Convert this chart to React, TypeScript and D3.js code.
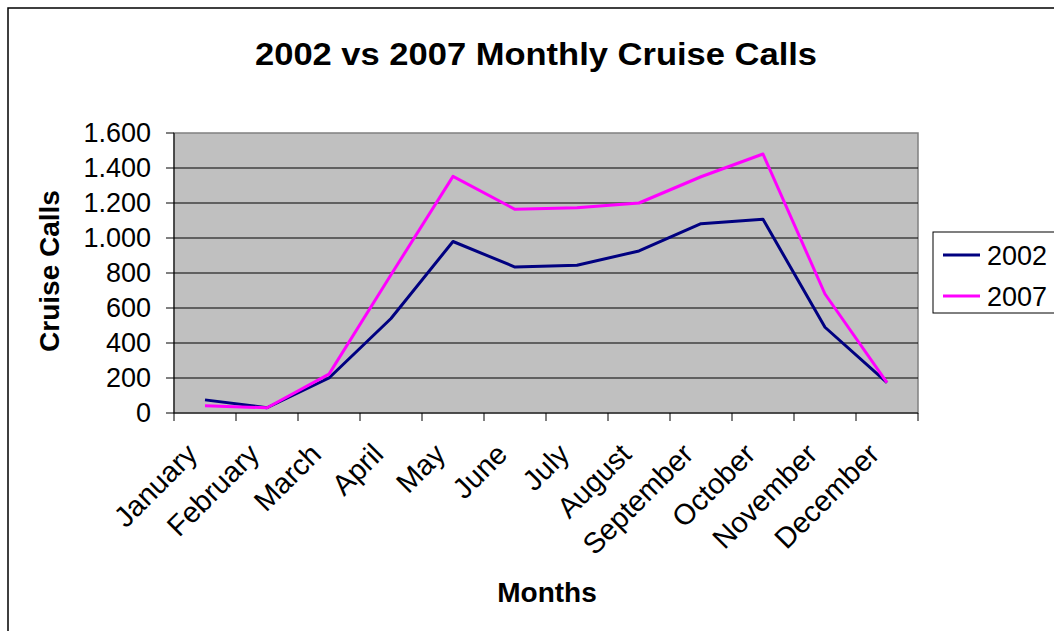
import React from "react";
import * as d3 from "d3";

const months = ["January","February","March","April","May","June","July","August","September","October","November","December"];
const values2002 = [75, 30, 200, 540, 980, 834, 844, 926, 1082, 1107, 490, 173];
const values2007 = [42, 30, 222, 790, 1352, 1164, 1173, 1200, 1350, 1480, 680, 173];
const yTicks = [0, 200, 400, 600, 800, 1000, 1200, 1400, 1600];
const seriesNames = ["2002", "2007"];
const seriesColors = ["#000080", "#FF00FF"];

const W = 1054, H = 631;
const plot = { left: 174, right: 918, top: 133, bottom: 413 };
const font = "'Liberation Sans', Arial, Helvetica, sans-serif";

export default function App() {
  const x = d3.scaleBand<string>().domain(months).range([plot.left, plot.right]);
  const y = d3.scaleLinear().domain([0, 1600]).range([plot.bottom, plot.top]);
  const line = d3.line<number>()
    .x((_, i) => (x(months[i]) as number) + x.bandwidth() / 2)
    .y((v) => y(v));
  const fmt = (v: number) => v >= 1000 ? d3.format(",")(v).replace(",", ".") : String(v);
  const series = [values2002, values2007];
  const boundaries = months.map((m) => x(m) as number).concat([plot.right]);

  return (
    <svg width={W} height={H} style={{ position: "absolute", left: 0, top: 0, background: "#fff" }} fontFamily={font}>
      <rect x={0} y={0} width={W} height={H} fill="#fff" />
      <rect x={8} y={8} width={W + 20} height={H + 20} fill="none" stroke="#000" strokeWidth={1.5} />
      <text x={536} y={65} textAnchor="middle" fontSize={31} fontWeight="bold" fill="#000"
        textLength={562} lengthAdjust="spacingAndGlyphs">
        2002 vs 2007 Monthly Cruise Calls
      </text>
      {/* plot area */}
      <rect x={plot.left} y={plot.top} width={plot.right - plot.left} height={plot.bottom - plot.top}
        fill="#C0C0C0" stroke="#808080" strokeWidth={1.5} />
      {yTicks.filter((t) => t > 0 && t < 1600).map((t) => (
        <line key={t} x1={plot.left} x2={plot.right} y1={y(t)} y2={y(t)} stroke="#000" strokeWidth={1} />
      ))}
      {/* axes */}
      <line x1={plot.left} x2={plot.left} y1={plot.top} y2={plot.bottom} stroke="#000" strokeWidth={1} />
      <line x1={plot.left} x2={plot.right} y1={plot.bottom} y2={plot.bottom} stroke="#000" strokeWidth={1} />
      {yTicks.map((t) => (
        <g key={t}>
          <line x1={plot.left - 8} x2={plot.left} y1={y(t)} y2={y(t)} stroke="#000" strokeWidth={1} />
          <text x={151} y={y(t) + 9} textAnchor="end" fontSize={27} fill="#000">{fmt(t)}</text>
        </g>
      ))}
      {boundaries.map((b, i) => (
        <line key={i} x1={b} x2={b} y1={plot.bottom} y2={plot.bottom + 8} stroke="#000" strokeWidth={1} />
      ))}
      {months.map((m) => {
        const cx = (x(m) as number) + x.bandwidth() / 2;
        return (
          <text key={m} transform={`translate(${cx - 6},${456}) rotate(-45)`} textAnchor="end" fontSize={29} fill="#000">{m}</text>
        );
      })}
      <text transform={`translate(59,271) rotate(-90)`} textAnchor="middle" fontSize={28} fontWeight="bold" fill="#000">Cruise Calls</text>
      <text x={547} y={602} textAnchor="middle" fontSize={28} fontWeight="bold" fill="#000">Months</text>
      {/* series */}
      {series.map((s, i) => (
        <path key={i} d={line(s) as string} fill="none" stroke={seriesColors[i]} strokeWidth={3} strokeLinejoin="round" />
      ))}
      {/* legend */}
      <rect x={933} y={232} width={130} height={81} fill="#fff" stroke="#000" strokeWidth={1} />
      {seriesNames.map((n, i) => (
        <g key={n}>
          <line x1={943} x2={980} y1={255 + i * 41} y2={255 + i * 41} stroke={seriesColors[i]} strokeWidth={3} />
          <text x={987} y={265 + i * 41} fontSize={27} fill="#000">{n}</text>
        </g>
      ))}
    </svg>
  );
}
